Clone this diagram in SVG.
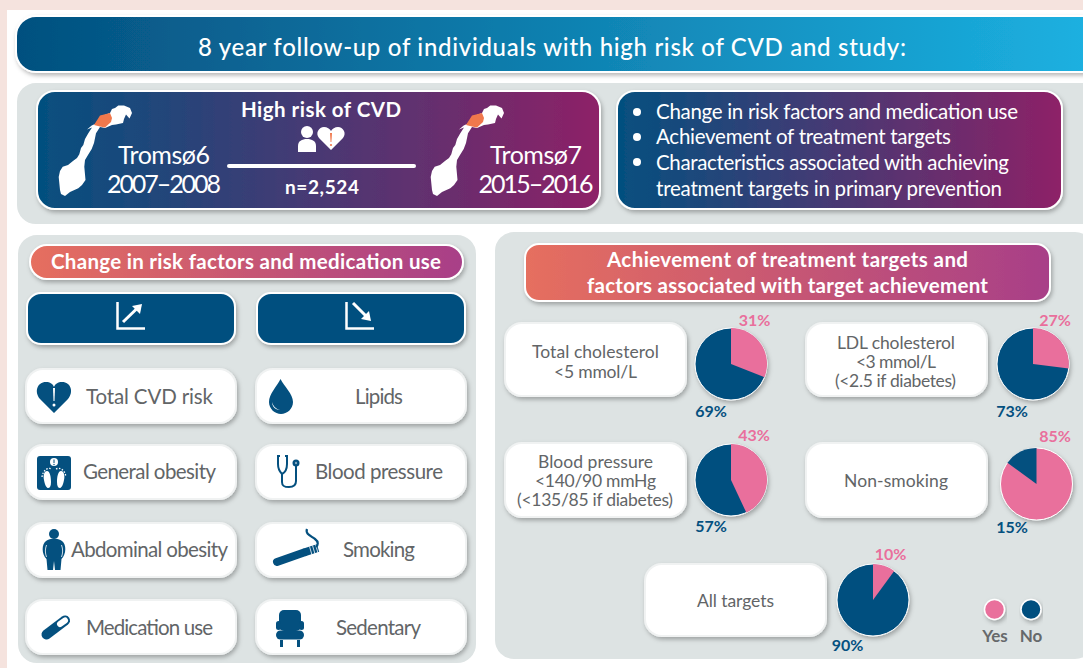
<svg xmlns="http://www.w3.org/2000/svg" xmlns:xlink="http://www.w3.org/1999/xlink" width="1083" height="668" viewBox="0 0 1083 668">
<style>
text{font-family:"Lato","Open Sans","Liberation Sans",sans-serif}
.w{fill:#fff}
.t{fill:#fff;font-size:25px;font-weight:400;text-anchor:middle}
.b{fill:#fff;font-size:20.5px;font-weight:400}
.h{fill:#fff;font-size:20.5px;font-weight:700;text-anchor:middle}
.g{fill:#626567;font-size:20.5px;font-weight:400;text-anchor:middle}
.s{fill:#626567;font-size:17.5px;font-weight:400;text-anchor:middle}
.py{fill:#e96f9c;font-size:16px;font-weight:700;text-anchor:middle}
.pn{fill:#04507f;font-size:16px;font-weight:700;text-anchor:middle}
.lg{fill:#66696b;font-size:17px;font-weight:700;text-anchor:middle}
.panel{fill:#dde3e3;stroke:#fff;stroke-width:2}
.card{fill:#fff;stroke:#f0f2f2;stroke-width:2;filter:url(#sh)}
.btn{fill:#04507f;stroke:#fff;stroke-width:2;filter:url(#sh)}
.ic{fill:#04507f}
.is{fill:none;stroke:#04507f}
.yes{fill:#e96f9c}
.no{fill:#04507f}
</style>
<defs>
<linearGradient id="gb"><stop offset="0" stop-color="#04507f"/><stop offset="1" stop-color="#1cb2e2"/></linearGradient>
<linearGradient id="gp"><stop offset="0" stop-color="#04507f"/><stop offset="1" stop-color="#8e2167"/></linearGradient>
<linearGradient id="go"><stop offset="0" stop-color="#e66f5f"/><stop offset="1" stop-color="#a83f88"/></linearGradient>
<filter id="sh" x="-10%" y="-20%" width="120%" height="150%"><feDropShadow dx="1.500" dy="2.500" stdDeviation="2" flood-color="#000" flood-opacity=".28"/></filter>
<g id="norway">
<path class="w" d="M65,196L61,194L60,190L58.700,177L60,171L62.700,166.700L68,165L73.300,160.700L77,158L79.300,154.300L81,148L83.300,145L85,139L88.300,133.300L92,127.500L87,129.500L91.700,125.500L95,124L102,116L110,113L112,109L115,108L118.300,105.500L124,105.500L130,108L132,113L129.500,118.500L126,114.500L124,119L123,123L116,124.500L112,125L105,128L100,127L96,133.300L94,143L91.700,149L88,155L85,160L84.300,166.700L85.500,180L82,185L78.300,188.300L70,192Z"/>
<path fill="#f0784c" d="M94,125L100,115.500L110,113L112,118L111,122L105,127.500L100,126.500Z"/>
</g>
</defs>
<rect width="1083" height="668" fill="#f5e3de"/>
<rect x="7" y="10" width="1090" height="670" fill="#fff"/>
<g id="title"><rect x="16" y="16" width="1090" height="56" rx="20" fill="url(#gb)" stroke="#fff" stroke-width="2" filter="url(#sh)"/>
<text x="552" y="56" class="w" font-size="24" font-weight="500" text-anchor="middle" textLength="708">8 year follow-up of individuals with high risk of CVD and study:</text></g>
<g id="study-panel"><rect class="panel" x="16" y="82" width="1090" height="143" rx="20"/></g>
<g id="cohort">
<rect x="37" y="91" width="563" height="118" rx="18" fill="url(#gp)" stroke="#fff" stroke-width="2" filter="url(#sh)"/>
<use xlink:href="#norway" href="#norway"/>
<use xlink:href="#norway" href="#norway" x="372"/>
<text class="t" x="164" y="164" textLength="92">Tromsø6</text>
<text class="t" x="164" y="193" textLength="114">2007–2008</text>
<text class="t" x="536" y="164" textLength="92">Tromsø7</text>
<text class="t" x="536" y="193" textLength="115">2015–2016</text>
<text class="h" x="321" y="117" textLength="160">High risk of CVD</text>
<circle class="w" cx="307" cy="132" r="6"/>
<path class="w" d="M298,152V146C298,141 302,139 307,139C312,139 316,141 316,146V152Z"/>
<path class="w" d="M331,150L319,138C315,133 319,127 324,127C327,127 330,129 331,131C332,129 335,127 338,127C343,127 347,133 343,138Z"/>
<path d="M330,133H332L331.400,142H330.600Z" fill="#f0784c"/><circle cx="331" cy="145" r="1.100" fill="#f0784c"/>
<text class="w" x="322" y="194" font-size="19" font-weight="700" text-anchor="middle" textLength="74">n=2,524</text>
</g>
<g id="connectors"><line x1="229" y1="166" x2="414" y2="166" stroke="#fff" stroke-width="4" stroke-linecap="round"/></g>
<g id="aims">
<rect x="617" y="91" width="445" height="118" rx="18" fill="url(#gp)" stroke="#fff" stroke-width="2" filter="url(#sh)"/>
<circle class="w" cx="637" cy="112" r="4"/><circle class="w" cx="637" cy="137" r="4"/><circle class="w" cx="637" cy="162" r="4"/>
<text class="b" x="656" y="119" textLength="362">Change in risk factors and medication use</text>
<text class="b" x="656" y="144" textLength="295">Achievement of treatment targets</text>
<text class="b" x="656" y="170" textLength="353">Characteristics associated with achieving</text>
<text class="b" x="656" y="196" textLength="346">treatment targets in primary prevention</text>
</g>
<g id="left-panel"><rect class="panel" x="17" y="234" width="460" height="430" rx="20"/>
<rect x="30" y="245" width="433" height="34" rx="17" fill="url(#go)" stroke="#fff" stroke-width="2" filter="url(#sh)"/>
<text class="h" x="246" y="269" font-size="20" textLength="390">Change in risk factors and medication use</text></g>
<g id="up"><rect class="btn" x="27" y="293" width="208" height="51" rx="14"/>
<path d="M117.500,302V328.500H145" fill="none" stroke="#fff" stroke-width="2.500"/>
<path d="M123,322L137,308.500" stroke="#fff" stroke-width="3" fill="none"/><path class="w" d="M142,304L140,314L132,306Z"/></g>
<g id="down"><rect class="btn" x="257" y="293" width="208" height="51" rx="14"/>
<path d="M346.500,302V328.500H374" fill="none" stroke="#fff" stroke-width="2.500"/>
<path d="M353,303L366,316" stroke="#fff" stroke-width="3" fill="none"/><path class="w" d="M371,321L361,319L369,311Z"/></g>
<g id="total-cvd"><rect class="card" x="26" y="369" width="210" height="54" rx="17"/>
<path class="ic" d="M54,413L40,399C34,392 37,382 46,382C50,382 53,384 54,387C55,384 58,382 62,382C71,382 74,392 68,399Z"/>
<path class="w" d="M53,388H55L54.500,401H53.500Z"/><circle class="w" cx="54" cy="405" r="1.500"/>
<text class="g" x="149.500" y="404" textLength="127">Total CVD risk</text></g>
<g id="lipids"><rect class="card" x="256" y="369" width="210" height="54" rx="17"/>
<path class="ic" d="M280.500,379C284,386 293,394 293,402C293,409 287,414 281,414C275,414 269,409 269,402C269,394 277,386 280.500,379Z"/>
<path class="w" d="M272,402C273,406 276,409 280,410C276,410 272,407 272,402Z"/>
<text class="g" x="379" y="404" textLength="48">Lipids</text></g>
<g id="general-obesity"><rect class="card" x="26" y="445" width="210" height="54" rx="17"/>
<rect class="ic" x="37" y="456" width="34" height="34" rx="3"/>
<circle class="w" cx="54" cy="462" r="4"/><path class="ic" d="M53.500,459.500H54.500V463H53.500Z"/><circle class="ic" cx="54" cy="464.500" r=".7"/>
<path class="w" d="M47,471C44,471 43,476 44,480C45,486 47,488 48,488C50,488 51,486 51,482C51,477 50,471 47,471Z"/>
<path class="w" d="M61,471C64,471 65,476 64,480C63,486 61,488 60,488C58,488 57,486 57,482C57,477 58,471 61,471Z"/>
<path d="M42,477C43,470 48,467 52,469M56,469C60,467 65,470 66,477" fill="none" stroke="#fff" stroke-width="1.300" stroke-dasharray="1.500 1.500"/>
<text class="g" x="149.500" y="479" textLength="133">General obesity</text></g>
<g id="blood-pressure"><rect class="card" x="256" y="445" width="210" height="54" rx="17"/>
<path class="is" stroke-width="2" d="M280,456H278V464C278,470 281,473 282,474C284,473 287,470 287,464V456H285M282,474V482C282,486 284,487 289,487C294,487 296,485 296,481V466"/>
<circle class="ic" cx="296" cy="463" r="3.500"/><circle cx="296" cy="463" r="1.200" fill="#7fa6bf"/>
<text class="g" x="379" y="479" textLength="128">Blood pressure</text></g>
<g id="abdominal-obesity"><rect class="card" x="26" y="523" width="210" height="54" rx="17"/>
<circle class="ic" cx="54" cy="534" r="5"/>
<path class="ic" d="M46.500,559C41.500,554 41.500,544 46,541C50,537.500 58,537.500 62,541C66.500,544 66.500,554 61.500,559L60.500,570H55L54,561L53,570H47.500Z"/>
<path d="M46.500,545C45,549 45,553 46.500,557M61.500,545C63,549 63,553 61.500,557" fill="none" stroke="#fff" stroke-width=".8"/>
<text class="g" x="149.500" y="557" textLength="157">Abdominal obesity</text></g>
<g id="smoking"><rect class="card" x="256" y="523" width="210" height="54" rx="17"/>
<path class="is" stroke-width="8" stroke-linecap="round" d="M277,562L304,552.500"/>
<path class="is" stroke-width="8" d="M304,552.500L318,548"/>
<path d="M309.500,546.500L312,555M312.500,545.500L315,554M315.500,544.500L318,553" stroke="#fff" stroke-width=".8"/>
<path class="is" stroke-width="2.200" d="M307,529C305,534 311,536 315,539C319,542 318,545 316,547"/>
<text class="g" x="379" y="557" textLength="72">Smoking</text></g>
<g id="medication"><rect class="card" x="26" y="600" width="210" height="54" rx="17"/>
<path class="is" stroke-width="10" stroke-linecap="round" d="M46.500,634.500L65,620.500"/>
<path stroke="#fff" stroke-width="6" stroke-linecap="round" fill="none" d="M60,624L65,620.500"/>
<text class="g" x="149.500" y="635" textLength="127">Medication use</text></g>
<g id="sedentary"><rect class="card" x="256" y="600" width="210" height="54" rx="17"/>
<rect class="ic" x="279" y="610" width="22" height="21" rx="5"/>
<rect class="ic" x="276" y="621" width="5" height="9" rx="2.500"/><rect class="ic" x="299" y="621" width="5" height="9" rx="2.500"/>
<rect class="ic" x="276" y="630.500" width="28" height="9" rx="4.500"/>
<rect class="ic" x="280" y="640" width="3" height="7"/><rect class="ic" x="297" y="640" width="3" height="7"/>
<text class="g" x="378.500" y="635" textLength="85">Sedentary</text></g>
<g id="right-panel"><rect class="panel" x="494" y="231" width="601" height="429" rx="20"/>
<rect x="525" y="244" width="525" height="57" rx="14" fill="url(#go)" stroke="#fff" stroke-width="2" filter="url(#sh)"/>
<text class="h" x="787.500" y="267" font-size="20" textLength="361">Achievement of treatment targets and</text>
<text class="h" x="787.500" y="293" font-size="20" textLength="401">factors associated with target achievement</text></g>
<g id="total-cholesterol"><rect class="card" x="505" y="323" width="181" height="73" rx="17"/>
<text class="s" x="595.500" y="358" textLength="127">Total cholesterol</text><text class="s" x="595.500" y="378" textLength="83">&lt;5 mmol/L</text>
<circle class="no" cx="731" cy="364" r="36" stroke="#fff" filter="url(#sh)"/><path class="yes" d="M731,364V328A36,36 0 0 1 764.500,377.250Z"/>
<text class="py" x="754.500" y="326">31%</text><text class="pn" x="711" y="417">69%</text></g>
<g id="ldl"><rect class="card" x="806" y="323" width="181" height="73" rx="17"/>
<text class="s" x="896" y="349" textLength="118">LDL cholesterol</text><text class="s" x="896" y="368" textLength="80">&lt;3 mmol/L</text><text class="s" x="895.500" y="387" textLength="121">(&lt;2.5 if diabetes)</text>
<circle class="no" cx="1033" cy="364" r="36" stroke="#fff" filter="url(#sh)"/><path class="yes" d="M1033,364V328A36,36 0 0 1 1068.700,368.500Z"/>
<text class="py" x="1055" y="326">27%</text><text class="pn" x="1012" y="417">73%</text></g>
<g id="bp-target"><rect class="card" x="505" y="443" width="181" height="74" rx="17"/>
<text class="s" x="595.500" y="468" textLength="115">Blood pressure</text><text class="s" x="595.500" y="487" textLength="121">&lt;140/90 mmHg</text><text class="s" x="595" y="506" textLength="156">(&lt;135/85 if diabetes)</text>
<circle class="no" cx="731" cy="480" r="36" stroke="#fff" filter="url(#sh)"/><path class="yes" d="M731,480V444A36,36 0 0 1 746.300,512.600Z"/>
<text class="py" x="754" y="441">43%</text><text class="pn" x="711" y="532">57%</text></g>
<g id="non-smoking"><rect class="card" x="806" y="443" width="181" height="74" rx="17"/>
<text class="s" x="896" y="487" textLength="104">Non-smoking</text>
<circle class="yes" cx="1036.500" cy="484" r="36" stroke="#fff" filter="url(#sh)"/><path class="no" d="M1036.500,484V448A36,36 0 0 0 1007.400,462.800Z"/>
<text class="py" x="1055" y="442">85%</text><text class="pn" x="1012" y="533">15%</text></g>
<g id="all-targets"><rect class="card" x="645" y="564" width="181" height="72" rx="17"/>
<text class="s" x="735.500" y="607" textLength="77">All targets</text>
<circle class="no" cx="873" cy="600" r="36" stroke="#fff" filter="url(#sh)"/><path class="yes" d="M873,600V564A36,36 0 0 1 894.200,570.900Z"/>
<text class="py" x="890.500" y="560">10%</text><text class="pn" x="847.500" y="651">90%</text></g>
<g id="legend"><circle class="yes" cx="994.500" cy="609.500" r="10" stroke="#fff" stroke-width="1.500" filter="url(#sh)"/><circle class="no" cx="1031" cy="609.500" r="10" stroke="#fff" stroke-width="1.500" filter="url(#sh)"/>
<text class="lg" x="995" y="642">Yes</text><text class="lg" x="1031" y="642">No</text></g>
</svg>
